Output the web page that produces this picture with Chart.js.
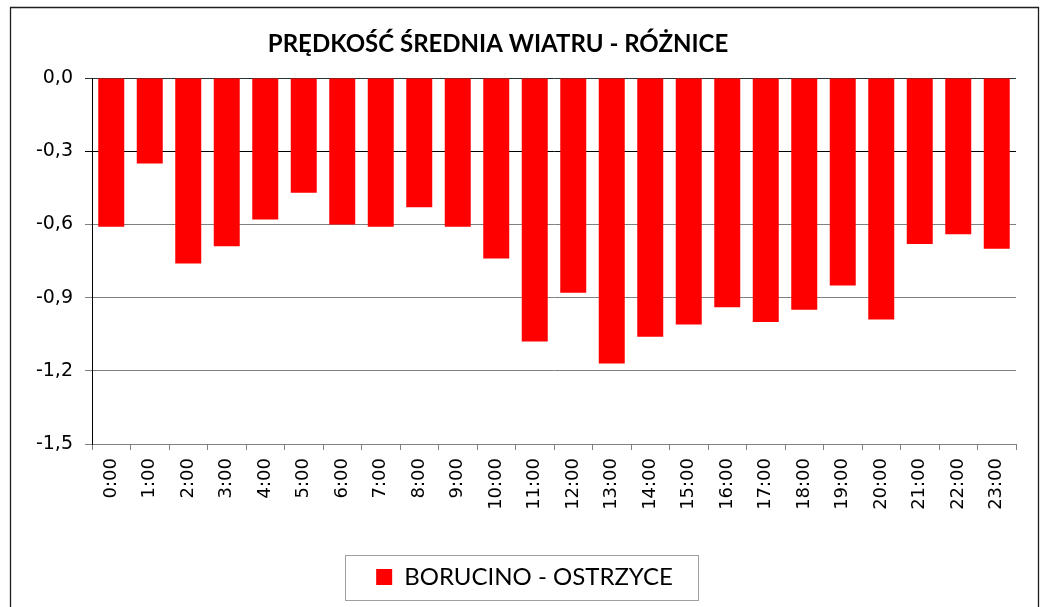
<!DOCTYPE html>
<html>
<head>
<meta charset="utf-8">
<script src="https://cdn.jsdelivr.net/npm/chart.js@4/dist/chart.umd.min.js"></script>
<style>
    body { margin: 0; background: #fff; }
</style>
</head>
<body>
<canvas id="ChartElem" width="1046" height="607"></canvas>
<script>
var chartTitle = "PRĘDKOŚĆ ŚREDNIA WIATRU - RÓŻNICE";
var seriesName = "BORUCINO - OSTRZYCE";
var hours = ["0:00", "1:00", "2:00", "3:00", "4:00", "5:00", "6:00", "7:00", "8:00", "9:00", "10:00", "11:00",
    "12:00", "13:00", "14:00", "15:00", "16:00", "17:00", "18:00", "19:00", "20:00", "21:00", "22:00", "23:00"];
var differences = [-0.61, -0.35, -0.76, -0.69, -0.58, -0.47, -0.60, -0.61, -0.53, -0.61, -0.74, -1.08,
    -0.88, -1.17, -1.06, -1.01, -0.94, -1.00, -0.95, -0.85, -0.99, -0.68, -0.64, -0.70];
var yTicks = [0, -0.3, -0.6, -0.9, -1.2, -1.5];

var padLeft = 33;

// frame, title and the box round the legend
var decorations = {
    id: "decorations",
    afterDraw: function (chart) {
        var ctx = chart.ctx;
        ctx.save();
        ctx.strokeStyle = "#1e1e1e";
        ctx.lineWidth = 1.3;
        ctx.beginPath();
        ctx.moveTo(10.5, 607);
        ctx.lineTo(10.5, 7.5);
        ctx.lineTo(1038.5, 7.5);
        ctx.lineTo(1038.5, 607);
        ctx.stroke();

        ctx.fillStyle = "#000";
        ctx.font = "bold 24px Lato";
        ctx.textAlign = "center";
        ctx.textBaseline = "middle";
        ctx.fillText(chartTitle, 498, 44);

        var hit = chart.legend.legendHitBoxes[0];
        if (hit) {
            var cy = hit.top + hit.height / 2;
            ctx.strokeStyle = "#a0a0a0";
            ctx.lineWidth = 1;
            ctx.strokeRect(Math.round(hit.left - 31) + 0.5, Math.round(cy - 22.5) + 0.5,
                Math.round(hit.width + 56), 45);
        }
        ctx.restore();
    }
};

function gridColour(c) {
    if (!c.tick) return "#808080";
    if (Math.abs(c.tick.value) < 1e-9) return "#2a3535";
    if (Math.abs(c.tick.value + 0.3) < 1e-9) return "#000";
    return "#808080";
}

var chart = new Chart(document.getElementById("ChartElem").getContext("2d"), {
    type: "bar",
    data: {
        labels: hours,
        datasets: [{
            label: seriesName,
            data: differences,
            backgroundColor: "#ff0000",
            borderWidth: 0,
            barPercentage: 0.675,
            categoryPercentage: 1
        }]
    },
    options: {
        responsive: false,
        animation: false,
        layout: { padding: { top: 78, right: 30, left: padLeft, bottom: 8 } },
        plugins: {
            title: { display: false },
            tooltip: { enabled: false },
            legend: {
                position: "bottom",
                labels: {
                    boxWidth: 16,
                    boxHeight: 16,
                    color: "#000",
                    font: { family: "Lato", size: 24 }
                }
            }
        },
        scales: {
            x: {
                grid: { drawOnChartArea: false, drawTicks: true, tickLength: 6, color: "#808080", offset: true },
                border: { color: "#808080" },
                ticks: {
                    autoSkip: false, minRotation: 90, maxRotation: 90, padding: 8,
                    color: "#000", font: { family: "DejaVu Sans", size: 18 }
                },
                afterFit: function (s) { s.height = 111; }
            },
            y: {
                min: -1.5,
                max: 0,
                afterBuildTicks: function (s) {
                    s.ticks = yTicks.map(function (v) { return { value: v }; });
                },
                grid: { color: gridColour, tickLength: 7 },
                border: { color: "#000" },
                ticks: {
                    padding: 12,
                    color: "#000",
                    font: { family: "DejaVu Sans", size: 19 },
                    callback: function (v) { return Number(v).toFixed(1).replace(".", ","); }
                },
                afterFit: function (s) { s.width = 92 - padLeft; }
            }
        }
    },
    plugins: [decorations]
});
</script>
</body>
</html>
